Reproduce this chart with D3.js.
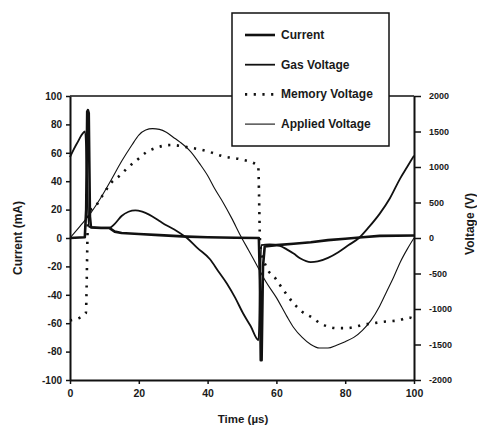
<!DOCTYPE html>
<html>
<head>
<meta charset="utf-8">
<script src="https://cdn.jsdelivr.net/npm/d3@7"></script>
<style>
  html, body { margin: 0; padding: 0; background: #fff; }
  svg { display: block; font-family: "Liberation Sans", Arial, sans-serif; }
  .axis path, .axis line { stroke: #111; }
  .axis text { fill: #1a1a1a; font-weight: bold; }
</style>
</head>
<body>
<div id="root"></div>
<script>
// tick labels
const timeTicks = [0, 20, 40, 60, 80, 100];
const currentTicks = [-100, -80, -60, -40, -20, 0, 20, 40, 60, 80, 100];
const voltageTicks = [-2000, -1500, -1000, -500, 0, 500, 1000, 1500, 2000];

// series: [time (us), value]
const currentMA = [
  [0, 0], [4.3, 0.5], [4.7, 20], [5.0, 89], [5.2, 90], [5.45, 88], [5.8, 15],
  [6.1, 7.5], [9, 7], [11.5, 7], [13, 4.5], [15, 3.5], [20, 2.8], [26, 2],
  [34, 1], [40, 0.5], [48, 0.2], [54.9, 0], [55.2, -30], [55.45, -86],
  [55.7, -86], [56.1, -20], [56.6, -6], [60, -5], [65, -4], [70, -3],
  [75, -1.5], [80, -0.5], [85, 0.5], [90, 1.5], [100, 1.8]
];

const gasVoltage = [
  [0, 1140], [2, 1330], [4.4, 1500], [5.5, 160], [6.5, 150], [9, 145],
  [11.5, 145], [13, 200], [15, 310], [17, 370], [19, 390], [21, 370],
  [23, 330], [26, 240], [28, 180], [31, 100], [34, 0], [37, -140],
  [40.7, -300], [43, -460], [45.6, -640], [48, -840], [50.3, -1060],
  [52.5, -1240], [54.8, -1440], [55.6, -100], [58, -90], [61, -110],
  [63, -160], [65, -220], [67, -290], [70, -340], [72, -330], [75, -280],
  [78, -200], [81, -100], [84, 0], [87, 160], [90, 340], [93, 560],
  [96, 840], [98, 1000], [100, 1160]
];

const memoryVoltage = [
  [0, -1160], [2.9, -1120], [4.6, -1060], [5.3, 360], [7.3, 440], [9.5, 600],
  [12, 780], [14.5, 880], [17, 1000], [20, 1120], [22, 1200], [25, 1270],
  [29.5, 1310], [34, 1280], [40, 1220], [44.5, 1150], [49.4, 1110],
  [54.7, 1020], [55.3, -100], [57.2, -420], [59.6, -560], [61, -660],
  [65, -920], [67.5, -1040], [70.4, -1120], [72.7, -1200], [75.2, -1250],
  [77.6, -1270], [80.5, -1270], [83, -1250], [85.4, -1220], [88.3, -1200],
  [91, -1180], [95.6, -1160], [98.5, -1120], [100, -1140]
];

const appliedVoltage = [
  [0, 0], [3, 170], [6, 350], [9, 570], [12, 820], [15, 1080], [18, 1310],
  [20, 1450], [22, 1520], [24, 1540], [26, 1530], [28, 1490], [30, 1420],
  [32, 1350], [35, 1220], [37.8, 1040], [40, 880], [42, 700], [44.5, 500],
  [47, 280], [49.5, 40], [52, -180], [54.5, -400], [57, -620], [60, -840],
  [63, -1100], [65, -1260], [67.5, -1400], [70, -1500], [72.5, -1550],
  [75, -1550], [77.5, -1510], [80, -1460], [82.5, -1400], [85, -1300],
  [87.5, -1160], [90, -960], [92, -760], [94, -560], [96, -340], [98, -160],
  [100, 0]
];

const legendNames = ["Current", "Gas Voltage", "Memory Voltage", "Applied Voltage"];

const width = 477;
const height = 428;
const padLeft = 70, padRight = 414, padTop = 96, padBottom = 380;

const svg = d3
  .select("#root")
  .append("svg")
  .attr("width", width)
  .attr("height", height)
  .attr("viewBox", [0, 0, width, height]);

svg.append("rect").attr("width", width).attr("height", height).attr("fill", "#fff");

const x = d3.scaleLinear().domain([0, 100]).range([padLeft, padRight]);
const yCur = d3.scaleLinear().domain([-100, 100]).range([padBottom, padTop]);
const yVolt = d3.scaleLinear().domain([-2000, 2000]).range([padBottom, padTop]);

const plain = (d) => String(d);

// top border
svg
  .append("line")
  .attr("x1", padLeft)
  .attr("x2", padRight)
  .attr("y1", padTop)
  .attr("y2", padTop)
  .attr("stroke", "#111")
  .attr("stroke-width", 1.5);

// axes
const xAxis = svg
  .append("g")
  .attr("class", "axis")
  .attr("transform", `translate(0, ${padBottom})`)
  .call(
    d3.axisBottom(x).tickValues(timeTicks).tickFormat(plain)
      .tickSize(4).tickSizeOuter(0).tickPadding(6)
  );
xAxis.selectAll("text").attr("font-size", 10.5);

const yAxisL = svg
  .append("g")
  .attr("class", "axis")
  .attr("transform", `translate(${padLeft}, 0)`)
  .call(
    d3.axisLeft(yCur).tickValues(currentTicks).tickFormat(plain)
      .tickSize(4).tickSizeOuter(0).tickPadding(4)
  );
yAxisL.selectAll("text").attr("font-size", 10);

const yAxisR = svg
  .append("g")
  .attr("class", "axis")
  .attr("transform", `translate(${padRight}, 0)`)
  .call(
    d3.axisRight(yVolt).tickValues(voltageTicks).tickFormat(plain)
      .tickSize(7).tickSizeOuter(0).tickPadding(8)
  );
yAxisR.selectAll("text").attr("font-size", 9);

svg.selectAll(".axis path").attr("stroke-width", 2);
svg.selectAll(".axis line").attr("stroke-width", 1.5);

// curves
const lineCur = d3.line().x((d) => x(d[0])).y((d) => yCur(d[1]));
const lineVolt = d3
  .line()
  .x((d) => x(d[0]))
  .y((d) => yVolt(d[1]))
  .curve(d3.curveMonotoneX);

const styles = [
  { width: 2.6, dash: null },
  { width: 1.8, dash: null },
  { width: 2.6, dash: "2.2,6.5" },
  { width: 1.1, dash: null }
];

svg
  .append("path")
  .attr("d", lineVolt(appliedVoltage))
  .attr("fill", "none")
  .attr("stroke", "#111")
  .attr("stroke-width", styles[3].width);

svg
  .append("path")
  .attr("d", lineVolt(memoryVoltage))
  .attr("fill", "none")
  .attr("stroke", "#111")
  .attr("stroke-width", styles[2].width)
  .attr("stroke-dasharray", styles[2].dash);

svg
  .append("path")
  .attr("d", lineVolt(gasVoltage))
  .attr("fill", "none")
  .attr("stroke", "#111")
  .attr("stroke-width", styles[1].width);

svg
  .append("path")
  .attr("d", lineCur(currentMA))
  .attr("fill", "none")
  .attr("stroke", "#111")
  .attr("stroke-width", styles[0].width)
  .attr("stroke-linejoin", "round");

// legend
const legend = svg.append("g").attr("transform", "translate(232, 13)");
legend
  .append("rect")
  .attr("width", 157)
  .attr("height", 133)
  .attr("fill", "#fff")
  .attr("stroke", "#111")
  .attr("stroke-width", 1.5);

const item = legend
  .selectAll("g")
  .data(legendNames)
  .join("g")
  .attr("transform", (d, i) => `translate(0, ${26 + i * 29.7})`);

item
  .append("line")
  .attr("x1", 13)
  .attr("x2", 43)
  .attr("y1", -4)
  .attr("y2", -4)
  .attr("stroke", "#111")
  .attr("stroke-width", (d, i) => styles[i].width)
  .attr("stroke-dasharray", (d, i) => styles[i].dash);

item
  .append("text")
  .attr("x", 49)
  .attr("font-size", 12)
  .attr("font-weight", "bold")
  .attr("fill", "#1a1a1a")
  .text((d) => d);

// axis titles
svg
  .append("text")
  .attr("x", 243)
  .attr("y", 423)
  .attr("text-anchor", "middle")
  .attr("font-size", 11.5)
  .attr("font-weight", "bold")
  .attr("fill", "#1a1a1a")
  .text("Time (µs)");

svg
  .append("text")
  .attr("transform", "translate(22, 238) rotate(-90)")
  .attr("text-anchor", "middle")
  .attr("font-size", 12)
  .attr("font-weight", "bold")
  .attr("fill", "#1a1a1a")
  .text("Current (mA)");

svg
  .append("text")
  .attr("transform", "translate(474, 224) rotate(-90)")
  .attr("text-anchor", "middle")
  .attr("font-size", 12)
  .attr("font-weight", "bold")
  .attr("fill", "#1a1a1a")
  .text("Voltage (V)");
</script>
</body>
</html>
